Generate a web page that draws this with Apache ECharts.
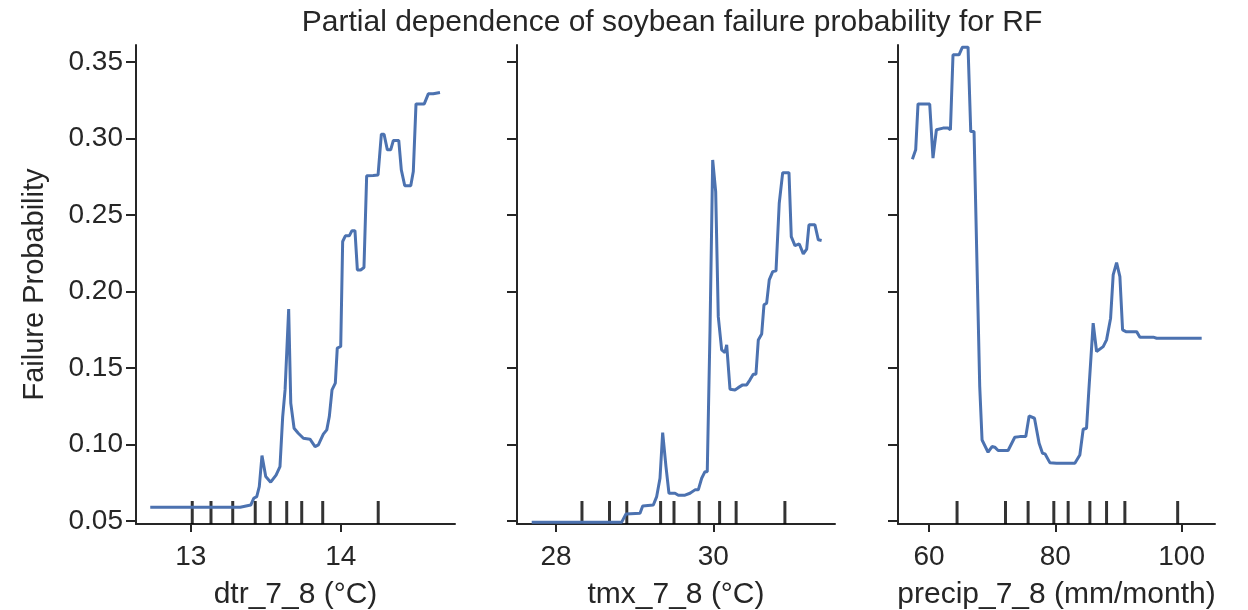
<!DOCTYPE html>
<html>
<head>
<meta charset="utf-8">
<script src="https://cdn.jsdelivr.net/npm/echarts@6/dist/echarts.min.js"></script>
<style>
  html, body { margin: 0; padding: 0; background: #fff; }
  #chart { width: 1248px; height: 610px; }
</style>
</head>
<body>
<div id="chart"></div>
<script>
// partial dependence curves
var dtrX = [12.73, 13.33, 13.40, 13.42, 13.44, 13.457, 13.475, 13.50, 13.533, 13.569, 13.595, 13.613, 13.629, 13.653, 13.667, 13.689, 13.717, 13.751, 13.795, 13.829, 13.851, 13.884, 13.907, 13.924, 13.942, 13.964, 13.977, 14.0, 14.013, 14.031, 14.057, 14.075, 14.095, 14.111, 14.133, 14.155, 14.173, 14.217, 14.249, 14.271, 14.289, 14.311, 14.333, 14.351, 14.387, 14.404, 14.427, 14.467, 14.484, 14.502, 14.557, 14.584, 14.617, 14.662];
var dtrY = [0.0590, 0.0590, 0.0604, 0.0648, 0.0659, 0.0724, 0.0927, 0.0790, 0.0753, 0.0800, 0.0855, 0.1180, 0.1356, 0.1884, 0.1270, 0.1106, 0.1073, 0.1040, 0.1034, 0.0986, 0.0997, 0.1067, 0.1095, 0.1182, 0.1356, 0.1400, 0.1629, 0.1640, 0.2326, 0.2363, 0.2363, 0.2397, 0.2397, 0.2140, 0.2140, 0.2156, 0.2755, 0.2757, 0.2761, 0.3027, 0.3027, 0.2925, 0.2925, 0.2986, 0.2986, 0.2794, 0.2690, 0.2690, 0.2783, 0.3225, 0.3225, 0.3291, 0.3291, 0.3300];

var tmxX = [27.691, 28.432, 28.835, 28.890, 29.068, 29.102, 29.237, 29.280, 29.322, 29.356, 29.398, 29.436, 29.513, 29.555, 29.640, 29.703, 29.767, 29.809, 29.852, 29.894, 29.923, 29.958, 29.992, 30.030, 30.063, 30.106, 30.148, 30.170, 30.212, 30.275, 30.317, 30.373, 30.424, 30.466, 30.508, 30.542, 30.572, 30.615, 30.644, 30.678, 30.711, 30.755, 30.797, 30.838, 30.882, 30.962, 30.991, 31.038, 31.093, 31.144, 31.187, 31.216, 31.292, 31.335, 31.377];
var tmxY = [0.0492, 0.0492, 0.0492, 0.0546, 0.0550, 0.0598, 0.0604, 0.0659, 0.0779, 0.1077, 0.0855, 0.0681, 0.0681, 0.0668, 0.0668, 0.0681, 0.0703, 0.0703, 0.0779, 0.0822, 0.0822, 0.1748, 0.2859, 0.2652, 0.1835, 0.1618, 0.1600, 0.1650, 0.1361, 0.1356, 0.1371, 0.1389, 0.1389, 0.1422, 0.1459, 0.1459, 0.1683, 0.1722, 0.1912, 0.1923, 0.2075, 0.2129, 0.2134, 0.2576, 0.2776, 0.2776, 0.2358, 0.2299, 0.2310, 0.2245, 0.2276, 0.2435, 0.2435, 0.2337, 0.2332];

var precX = [57.37, 57.89, 58.26, 60.11, 60.63, 61.17, 62.22, 63.01, 63.39, 63.80, 64.75, 65.29, 66.18, 66.61, 67.13, 68.03, 68.40, 69.35, 69.98, 70.41, 70.94, 72.52, 73.58, 74.37, 75.32, 75.85, 76.70, 77.43, 77.97, 78.38, 79.13, 80.19, 83.09, 83.88, 84.41, 84.94, 85.31, 85.99, 86.53, 87.58, 88.11, 88.75, 89.16, 89.70, 90.22, 90.65, 91.17, 92.87, 93.39, 95.50, 96.04, 103.17];
var precY = [0.2864, 0.2925, 0.3225, 0.3224, 0.2871, 0.3056, 0.3067, 0.3067, 0.3056, 0.3546, 0.3546, 0.3596, 0.3596, 0.3044, 0.3044, 0.1378, 0.1029, 0.0949, 0.0986, 0.0982, 0.0960, 0.0960, 0.1047, 0.1051, 0.1051, 0.1186, 0.1171, 0.1008, 0.0942, 0.0938, 0.0881, 0.0877, 0.0877, 0.0931, 0.1099, 0.1106, 0.1356, 0.1792, 0.1607, 0.1639, 0.1683, 0.1825, 0.2108, 0.2188, 0.2097, 0.1748, 0.1737, 0.1737, 0.1701, 0.1701, 0.1694, 0.1694];

// deciles shown as rug ticks
var dtrRug = [13.01, 13.135, 13.28, 13.43, 13.53, 13.64, 13.74, 13.88, 14.25];
var tmxRug = [28.33, 28.68, 28.90, 29.33, 29.50, 29.82, 30.08, 30.29, 30.91];
var precRug = [64.44, 72.11, 75.69, 79.76, 82.03, 85.47, 88.11, 91.01, 99.37];

var dtrTicks = [13, 14];
var tmxTicks = [28, 30];
var precTicks = [60, 80, 100];
var yTicks = [0.05, 0.10, 0.15, 0.20, 0.25, 0.30, 0.35];

var xNames = ['dtr_7_8 (°C)', 'tmx_7_8 (°C)', 'precip_7_8 (mm/month)'];
var xRanges = [[12.635, 14.762], [27.504, 31.547], [55.09, 105.28]];

var yMin = 0.048, yMax = 0.361;
var ink = '#262626';
var lineColor = '#4c72b0';
var font = '"Liberation Sans", Arial, sans-serif';

function pairs(xs, ys) {
  return xs.map(function (x, i) { return [x, ys[i]]; });
}
function rug(xs) {
  return xs.map(function (x) { return [x, yMin]; });
}

var curves = [pairs(dtrX, dtrY), pairs(tmxX, tmxY), pairs(precX, precY)];
var rugs = [rug(dtrRug), rug(tmxRug), rug(precRug)];
var xTicks = [dtrTicks, tmxTicks, precTicks];
var lefts = [136, 517, 898];
var widths = [319, 318, 317];

var grid = [], xAxis = [], yAxis = [], series = [];
for (var i = 0; i < 3; i++) {
  grid.push({ left: lefts[i], top: 45, width: widths[i], height: 479, containLabel: false, outerBoundsMode: 'none' });
  xAxis.push({
    type: 'value', gridIndex: i,
    min: xRanges[i][0], max: xRanges[i][1],
    name: xNames[i], nameLocation: 'middle', nameGap: 56,
    nameTextStyle: { color: ink, fontSize: 30, fontFamily: font },
    axisLine: { lineStyle: { color: ink, width: 2 } },
    axisTick: { show: true, length: 8, lineStyle: { color: ink, width: 2 }, customValues: xTicks[i] },
    axisLabel: { color: ink, fontSize: 28, fontFamily: font, margin: 19, customValues: xTicks[i] },
    splitLine: { show: false }
  });
  yAxis.push({
    type: 'value', gridIndex: i,
    min: yMin, max: yMax,
    name: i === 0 ? 'Failure Probability' : '',
    nameLocation: 'middle', nameGap: 87, nameRotate: 90,
    nameTextStyle: { color: ink, fontSize: 29, fontFamily: font },
    axisLine: { show: true, lineStyle: { color: ink, width: 2 } },
    axisTick: { show: true, length: 10, lineStyle: { color: ink, width: 2 }, customValues: yTicks },
    axisLabel: {
      show: i === 0, color: ink, fontSize: 28, fontFamily: font, margin: 13,
      customValues: yTicks,
      formatter: function (v) { return v.toFixed(2); }
    },
    splitLine: { show: false }
  });
  series.push({
    type: 'scatter', xAxisIndex: i, yAxisIndex: i,
    data: rugs[i], symbol: 'rect', symbolSize: [3, 23], symbolOffset: [0, '-50%'],
    itemStyle: { color: '#000' }, silent: true, z: 2
  });
  series.push({
    type: 'line', xAxisIndex: i, yAxisIndex: i,
    data: curves[i], showSymbol: false, clip: true,
    lineStyle: { color: lineColor, width: 3 },
    silent: true, z: 3
  });
}

var myChart = echarts.init(document.getElementById('chart'));
var option = {
  animation: false,
  backgroundColor: '#fff',
  title: {
    text: 'Partial dependence of soybean failure probability for RF',
    left: 667, top: 3, textAlign: 'center',
    textStyle: { color: ink, fontSize: 30, fontWeight: 'normal', fontFamily: font }
  },
  grid: grid,
  xAxis: xAxis,
  yAxis: yAxis,
  series: series
};
myChart.setOption(option);
window.addEventListener('resize', function () {
  myChart.resize();
});
</script>
</body>
</html>
